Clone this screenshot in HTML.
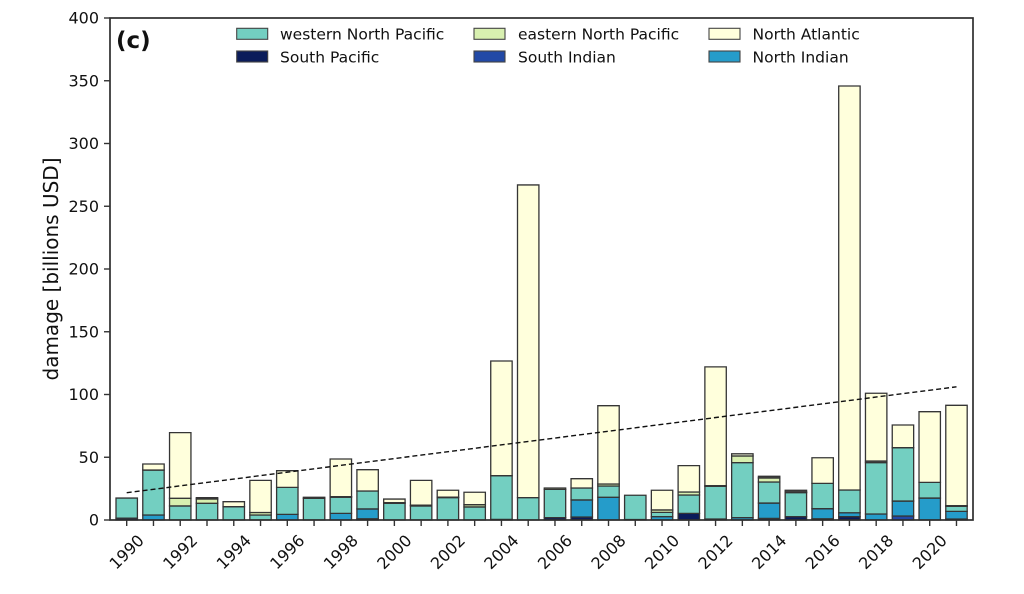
<!DOCTYPE html>
<html><head><meta charset="utf-8"><style>
html,body{margin:0;padding:0;background:#fff;}
svg{display:block;font-family:"DejaVu Sans","Liberation Sans",sans-serif;}
.t{font-size:16px;fill:#111;}
.lg{font-size:15.5px;fill:#111;}
rect.b{stroke:#353535;stroke-width:1.3;}
</style></head><body>
<svg width="1024" height="594" viewBox="0 0 1024 594" xmlns="http://www.w3.org/2000/svg">
<defs>
<style>
.sp{fill:#0b1c5a}.si{fill:#2249a6}.ni{fill:#259cca}.wnp{fill:#73cfc1}.enp{fill:#d8f0b0}.na{fill:#ffffdc}
</style>
</defs>
<g transform="translate(116 520) scale(26.767 -1.255)">
<g>
<!-- 1990 -->
<rect class="b sp" vector-effect="non-scaling-stroke" x="0" width="0.8" y="0" height="1.5"/>
<rect class="b wnp" vector-effect="non-scaling-stroke" x="0" width="0.8" y="1.5" height="16"/>
<!-- 1991 -->
<rect class="b ni" vector-effect="non-scaling-stroke" x="1" width="0.8" y="0" height="4"/>
<rect class="b wnp" vector-effect="non-scaling-stroke" x="1" width="0.8" y="4" height="35.8"/>
<rect class="b na" vector-effect="non-scaling-stroke" x="1" width="0.8" y="39.8" height="4.8"/>
<!-- 1992 -->
<rect class="b wnp" vector-effect="non-scaling-stroke" x="2" width="0.8" y="0" height="11.2"/>
<rect class="b enp" vector-effect="non-scaling-stroke" x="2" width="0.8" y="11.2" height="6.1"/>
<rect class="b na" vector-effect="non-scaling-stroke" x="2" width="0.8" y="17.3" height="52.3"/>
<!-- 1993 -->
<rect class="b wnp" vector-effect="non-scaling-stroke" x="3" width="0.8" y="0" height="13.3"/>
<rect class="b enp" vector-effect="non-scaling-stroke" x="3" width="0.8" y="13.3" height="3.5"/>
<rect class="b na" vector-effect="non-scaling-stroke" x="3" width="0.8" y="16.8" height="1"/>
<!-- 1994 -->
<rect class="b wnp" vector-effect="non-scaling-stroke" x="4" width="0.8" y="0" height="10.6"/>
<rect class="b na" vector-effect="non-scaling-stroke" x="4" width="0.8" y="10.6" height="4"/>
<!-- 1995 -->
<rect class="b wnp" vector-effect="non-scaling-stroke" x="5" width="0.8" y="0" height="4"/>
<rect class="b enp" vector-effect="non-scaling-stroke" x="5" width="0.8" y="4" height="2"/>
<rect class="b na" vector-effect="non-scaling-stroke" x="5" width="0.8" y="6" height="25.6"/>
<!-- 1996 -->
<rect class="b ni" vector-effect="non-scaling-stroke" x="6" width="0.8" y="0" height="4.5"/>
<rect class="b wnp" vector-effect="non-scaling-stroke" x="6" width="0.8" y="4.5" height="21.5"/>
<rect class="b na" vector-effect="non-scaling-stroke" x="6" width="0.8" y="26" height="13.3"/>
<!-- 1997 -->
<rect class="b wnp" vector-effect="non-scaling-stroke" x="7" width="0.8" y="0" height="17.3"/>
<rect class="b enp" vector-effect="non-scaling-stroke" x="7" width="0.8" y="17.3" height="0.8"/>
<!-- 1998 -->
<rect class="b ni" vector-effect="non-scaling-stroke" x="8" width="0.8" y="0" height="5.3"/>
<rect class="b wnp" vector-effect="non-scaling-stroke" x="8" width="0.8" y="5.3" height="12.8"/>
<rect class="b enp" vector-effect="non-scaling-stroke" x="8" width="0.8" y="18.1" height="0.5"/>
<rect class="b na" vector-effect="non-scaling-stroke" x="8" width="0.8" y="18.6" height="30"/>
<!-- 1999 -->
<rect class="b sp" vector-effect="non-scaling-stroke" x="9" width="0.8" y="0" height="1"/>
<rect class="b ni" vector-effect="non-scaling-stroke" x="9" width="0.8" y="1" height="7.8"/>
<rect class="b wnp" vector-effect="non-scaling-stroke" x="9" width="0.8" y="8.8" height="14.3"/>
<rect class="b na" vector-effect="non-scaling-stroke" x="9" width="0.8" y="23.1" height="17"/>
<!-- 2000 -->
<rect class="b wnp" vector-effect="non-scaling-stroke" x="10" width="0.8" y="0" height="13.3"/>
<rect class="b enp" vector-effect="non-scaling-stroke" x="10" width="0.8" y="13.3" height="0.5"/>
<rect class="b na" vector-effect="non-scaling-stroke" x="10" width="0.8" y="13.8" height="2.9"/>
<!-- 2001 -->
<rect class="b wnp" vector-effect="non-scaling-stroke" x="11" width="0.8" y="0" height="11.2"/>
<rect class="b enp" vector-effect="non-scaling-stroke" x="11" width="0.8" y="11.2" height="0.6"/>
<rect class="b na" vector-effect="non-scaling-stroke" x="11" width="0.8" y="11.8" height="19.8"/>
<!-- 2002 -->
<rect class="b wnp" vector-effect="non-scaling-stroke" x="12" width="0.8" y="0" height="17.8"/>
<rect class="b enp" vector-effect="non-scaling-stroke" x="12" width="0.8" y="17.8" height="0.4"/>
<rect class="b na" vector-effect="non-scaling-stroke" x="12" width="0.8" y="18.2" height="5.5"/>
<!-- 2003 -->
<rect class="b wnp" vector-effect="non-scaling-stroke" x="13" width="0.8" y="0" height="10.4"/>
<rect class="b enp" vector-effect="non-scaling-stroke" x="13" width="0.8" y="10.4" height="1.8"/>
<rect class="b na" vector-effect="non-scaling-stroke" x="13" width="0.8" y="12.2" height="9.9"/>
<!-- 2004 -->
<rect class="b sp" vector-effect="non-scaling-stroke" x="14" width="0.8" y="0" height="0.5"/>
<rect class="b wnp" vector-effect="non-scaling-stroke" x="14" width="0.8" y="0.5" height="34.8"/>
<rect class="b na" vector-effect="non-scaling-stroke" x="14" width="0.8" y="35.3" height="91.4"/>
<!-- 2005 -->
<rect class="b wnp" vector-effect="non-scaling-stroke" x="15" width="0.8" y="0" height="17.8"/>
<rect class="b na" vector-effect="non-scaling-stroke" x="15" width="0.8" y="17.8" height="249.2"/>
<!-- 2006 -->
<rect class="b sp" vector-effect="non-scaling-stroke" x="16" width="0.8" y="0" height="1.9"/>
<rect class="b wnp" vector-effect="non-scaling-stroke" x="16" width="0.8" y="1.9" height="22.5"/>
<rect class="b enp" vector-effect="non-scaling-stroke" x="16" width="0.8" y="24.4" height="1.1"/>
<!-- 2007 -->
<rect class="b sp" vector-effect="non-scaling-stroke" x="17" width="0.8" y="0" height="2.4"/>
<rect class="b ni" vector-effect="non-scaling-stroke" x="17" width="0.8" y="2.4" height="13.6"/>
<rect class="b wnp" vector-effect="non-scaling-stroke" x="17" width="0.8" y="16" height="9.5"/>
<rect class="b na" vector-effect="non-scaling-stroke" x="17" width="0.8" y="25.5" height="7.4"/>
<!-- 2008 -->
<rect class="b ni" vector-effect="non-scaling-stroke" x="18" width="0.8" y="0" height="18.1"/>
<rect class="b wnp" vector-effect="non-scaling-stroke" x="18" width="0.8" y="18.1" height="9"/>
<rect class="b enp" vector-effect="non-scaling-stroke" x="18" width="0.8" y="27.1" height="1.6"/>
<rect class="b na" vector-effect="non-scaling-stroke" x="18" width="0.8" y="28.7" height="62.4"/>
<!-- 2009 -->
<rect class="b sp" vector-effect="non-scaling-stroke" x="19" width="0.8" y="0" height="0.4"/>
<rect class="b wnp" vector-effect="non-scaling-stroke" x="19" width="0.8" y="0.4" height="19.3"/>
<!-- 2010 -->
<rect class="b ni" vector-effect="non-scaling-stroke" x="20" width="0.8" y="0" height="2.7"/>
<rect class="b wnp" vector-effect="non-scaling-stroke" x="20" width="0.8" y="2.7" height="3.4"/>
<rect class="b enp" vector-effect="non-scaling-stroke" x="20" width="0.8" y="6.1" height="1.9"/>
<rect class="b na" vector-effect="non-scaling-stroke" x="20" width="0.8" y="8" height="15.7"/>
<!-- 2011 -->
<rect class="b sp" vector-effect="non-scaling-stroke" x="21" width="0.8" y="0" height="5.3"/>
<rect class="b wnp" vector-effect="non-scaling-stroke" x="21" width="0.8" y="5.3" height="14.6"/>
<rect class="b enp" vector-effect="non-scaling-stroke" x="21" width="0.8" y="19.9" height="2.4"/>
<rect class="b na" vector-effect="non-scaling-stroke" x="21" width="0.8" y="22.3" height="21"/>
<!-- 2012 -->
<rect class="b ni" vector-effect="non-scaling-stroke" x="22" width="0.8" y="0" height="0.8"/>
<rect class="b wnp" vector-effect="non-scaling-stroke" x="22" width="0.8" y="0.8" height="26"/>
<rect class="b enp" vector-effect="non-scaling-stroke" x="22" width="0.8" y="26.8" height="0.6"/>
<rect class="b na" vector-effect="non-scaling-stroke" x="22" width="0.8" y="27.4" height="94.6"/>
<!-- 2013 -->
<rect class="b ni" vector-effect="non-scaling-stroke" x="23" width="0.8" y="0" height="1.9"/>
<rect class="b wnp" vector-effect="non-scaling-stroke" x="23" width="0.8" y="1.9" height="43.8"/>
<rect class="b enp" vector-effect="non-scaling-stroke" x="23" width="0.8" y="45.7" height="5.3"/>
<rect class="b na" vector-effect="non-scaling-stroke" x="23" width="0.8" y="51" height="1.8" style="fill:#d9dcc4"/>
<!-- 2014 -->
<rect class="b sp" vector-effect="non-scaling-stroke" x="24" width="0.8" y="0" height="1.3"/>
<rect class="b ni" vector-effect="non-scaling-stroke" x="24" width="0.8" y="1.3" height="12.2"/>
<rect class="b wnp" vector-effect="non-scaling-stroke" x="24" width="0.8" y="13.5" height="16.8"/>
<rect class="b enp" vector-effect="non-scaling-stroke" x="24" width="0.8" y="30.3" height="3.2"/>
<rect class="b na" vector-effect="non-scaling-stroke" x="24" width="0.8" y="33.5" height="1.3" style="fill:#555"/>
<!-- 2015 -->
<rect class="b sp" vector-effect="non-scaling-stroke" x="25" width="0.8" y="0" height="2.7"/>
<rect class="b wnp" vector-effect="non-scaling-stroke" x="25" width="0.8" y="2.7" height="19.1"/>
<rect class="b enp" vector-effect="non-scaling-stroke" x="25" width="0.8" y="21.8" height="0.5"/>
<rect class="b na" vector-effect="non-scaling-stroke" x="25" width="0.8" y="22.3" height="1.4" style="fill:#555"/>
<!-- 2016 -->
<rect class="b sp" vector-effect="non-scaling-stroke" x="26" width="0.8" y="0" height="1"/>
<rect class="b ni" vector-effect="non-scaling-stroke" x="26" width="0.8" y="1" height="8"/>
<rect class="b wnp" vector-effect="non-scaling-stroke" x="26" width="0.8" y="9" height="20.2"/>
<rect class="b na" vector-effect="non-scaling-stroke" x="26" width="0.8" y="29.2" height="20.4"/>
<!-- 2017 -->
<rect class="b sp" vector-effect="non-scaling-stroke" x="27" width="0.8" y="0" height="2.7"/>
<rect class="b ni" vector-effect="non-scaling-stroke" x="27" width="0.8" y="2.7" height="3.1"/>
<rect class="b wnp" vector-effect="non-scaling-stroke" x="27" width="0.8" y="5.8" height="18.1"/>
<rect class="b na" vector-effect="non-scaling-stroke" x="27" width="0.8" y="23.9" height="321.9"/>
<!-- 2018 -->
<rect class="b ni" vector-effect="non-scaling-stroke" x="28" width="0.8" y="0" height="4.8"/>
<rect class="b wnp" vector-effect="non-scaling-stroke" x="28" width="0.8" y="4.8" height="40.9"/>
<rect class="b enp" vector-effect="non-scaling-stroke" x="28" width="0.8" y="45.7" height="1.3" style="fill:#555"/>
<rect class="b na" vector-effect="non-scaling-stroke" x="28" width="0.8" y="47" height="54"/>
<!-- 2019 -->
<rect class="b si" vector-effect="non-scaling-stroke" x="29" width="0.8" y="0" height="3.2"/>
<rect class="b ni" vector-effect="non-scaling-stroke" x="29" width="0.8" y="3.2" height="11.9"/>
<rect class="b wnp" vector-effect="non-scaling-stroke" x="29" width="0.8" y="15.1" height="42.5"/>
<rect class="b na" vector-effect="non-scaling-stroke" x="29" width="0.8" y="57.6" height="18.1"/>
<!-- 2020 -->
<rect class="b ni" vector-effect="non-scaling-stroke" x="30" width="0.8" y="0" height="17.5"/>
<rect class="b wnp" vector-effect="non-scaling-stroke" x="30" width="0.8" y="17.5" height="12.5"/>
<rect class="b na" vector-effect="non-scaling-stroke" x="30" width="0.8" y="30" height="56.3"/>
<!-- 2021 -->
<rect class="b sp" vector-effect="non-scaling-stroke" x="31" width="0.8" y="0" height="0.8"/>
<rect class="b ni" vector-effect="non-scaling-stroke" x="31" width="0.8" y="0.8" height="6.1"/>
<rect class="b wnp" vector-effect="non-scaling-stroke" x="31" width="0.8" y="6.9" height="4"/>
<rect class="b enp" vector-effect="non-scaling-stroke" x="31" width="0.8" y="10.9" height="0.5"/>
<rect class="b na" vector-effect="non-scaling-stroke" x="31" width="0.8" y="11.4" height="80"/>
</g>
</g>

<!-- trend line -->
<line x1="126.7" y1="492.7" x2="956.5" y2="386.8" stroke="#111" stroke-width="1.4" stroke-dasharray="5 3"/>

<!-- axes frame -->
<rect x="110" y="18" width="863" height="502" fill="none" stroke="#2e2e2e" stroke-width="1.7"/>

<!-- y ticks -->
<g stroke="#333" stroke-width="1.4">
<line x1="104" y1="520" x2="110" y2="520"/>
<line x1="104" y1="457.25" x2="110" y2="457.25"/>
<line x1="104" y1="394.5" x2="110" y2="394.5"/>
<line x1="104" y1="331.75" x2="110" y2="331.75"/>
<line x1="104" y1="269" x2="110" y2="269"/>
<line x1="104" y1="206.25" x2="110" y2="206.25"/>
<line x1="104" y1="143.5" x2="110" y2="143.5"/>
<line x1="104" y1="80.75" x2="110" y2="80.75"/>
<line x1="104" y1="18" x2="110" y2="18"/>
</g>
<g class="t" text-anchor="end" dominant-baseline="central">
<text x="99" y="520">0</text>
<text x="99" y="457.25">50</text>
<text x="99" y="394.5">100</text>
<text x="99" y="331.75">150</text>
<text x="99" y="269">200</text>
<text x="99" y="206.25">250</text>
<text x="99" y="143.5">300</text>
<text x="99" y="80.75">350</text>
<text x="99" y="18">400</text>
</g>

<!-- x ticks -->
<g stroke="#333" stroke-width="1.4">
<line x1="126.70" y1="520" x2="126.70" y2="526"/>
<line x1="153.47" y1="520" x2="153.47" y2="526"/>
<line x1="180.23" y1="520" x2="180.23" y2="526"/>
<line x1="207.00" y1="520" x2="207.00" y2="526"/>
<line x1="233.77" y1="520" x2="233.77" y2="526"/>
<line x1="260.54" y1="520" x2="260.54" y2="526"/>
<line x1="287.30" y1="520" x2="287.30" y2="526"/>
<line x1="314.07" y1="520" x2="314.07" y2="526"/>
<line x1="340.84" y1="520" x2="340.84" y2="526"/>
<line x1="367.60" y1="520" x2="367.60" y2="526"/>
<line x1="394.37" y1="520" x2="394.37" y2="526"/>
<line x1="421.14" y1="520" x2="421.14" y2="526"/>
<line x1="447.90" y1="520" x2="447.90" y2="526"/>
<line x1="474.67" y1="520" x2="474.67" y2="526"/>
<line x1="501.44" y1="520" x2="501.44" y2="526"/>
<line x1="528.21" y1="520" x2="528.21" y2="526"/>
<line x1="554.97" y1="520" x2="554.97" y2="526"/>
<line x1="581.74" y1="520" x2="581.74" y2="526"/>
<line x1="608.51" y1="520" x2="608.51" y2="526"/>
<line x1="635.27" y1="520" x2="635.27" y2="526"/>
<line x1="662.04" y1="520" x2="662.04" y2="526"/>
<line x1="688.81" y1="520" x2="688.81" y2="526"/>
<line x1="715.57" y1="520" x2="715.57" y2="526"/>
<line x1="742.34" y1="520" x2="742.34" y2="526"/>
<line x1="769.11" y1="520" x2="769.11" y2="526"/>
<line x1="795.88" y1="520" x2="795.88" y2="526"/>
<line x1="822.64" y1="520" x2="822.64" y2="526"/>
<line x1="849.41" y1="520" x2="849.41" y2="526"/>
<line x1="876.18" y1="520" x2="876.18" y2="526"/>
<line x1="902.94" y1="520" x2="902.94" y2="526"/>
<line x1="929.71" y1="520" x2="929.71" y2="526"/>
<line x1="956.48" y1="520" x2="956.48" y2="526"/>
</g>
<g class="t" text-anchor="middle" dominant-baseline="central">
<text x="126.70" y="552" transform="rotate(-45 126.70 552)">1990</text>
<text x="180.23" y="552" transform="rotate(-45 180.23 552)">1992</text>
<text x="233.77" y="552" transform="rotate(-45 233.77 552)">1994</text>
<text x="287.30" y="552" transform="rotate(-45 287.30 552)">1996</text>
<text x="340.84" y="552" transform="rotate(-45 340.84 552)">1998</text>
<text x="394.37" y="552" transform="rotate(-45 394.37 552)">2000</text>
<text x="447.90" y="552" transform="rotate(-45 447.90 552)">2002</text>
<text x="501.44" y="552" transform="rotate(-45 501.44 552)">2004</text>
<text x="554.97" y="552" transform="rotate(-45 554.97 552)">2006</text>
<text x="608.51" y="552" transform="rotate(-45 608.51 552)">2008</text>
<text x="662.04" y="552" transform="rotate(-45 662.04 552)">2010</text>
<text x="715.57" y="552" transform="rotate(-45 715.57 552)">2012</text>
<text x="769.11" y="552" transform="rotate(-45 769.11 552)">2014</text>
<text x="822.64" y="552" transform="rotate(-45 822.64 552)">2016</text>
<text x="876.18" y="552" transform="rotate(-45 876.18 552)">2018</text>
<text x="929.71" y="552" transform="rotate(-45 929.71 552)">2020</text>
</g>

<!-- y label -->
<text x="58" y="269" font-size="20" fill="#111" text-anchor="middle" transform="rotate(-90 58 269)">damage [billions USD]</text>

<!-- panel label -->
<text x="116" y="48" font-size="23" font-weight="bold" fill="#111">(c)</text>

<!-- legend -->
<g stroke="#444" stroke-width="1.1">
<rect x="236.7" y="28.3" width="31" height="11" class="wnp"/>
<rect x="236.7" y="51" width="31" height="11" class="sp"/>
<rect x="474" y="28.3" width="31" height="11" class="enp"/>
<rect x="474" y="51" width="31" height="11" class="si"/>
<rect x="709" y="28.3" width="31" height="11" class="na"/>
<rect x="709" y="51" width="31" height="11" class="ni"/>
</g>
<g class="lg">
<text x="280" y="39.5">western North Pacific</text>
<text x="280" y="62.5">South Pacific</text>
<text x="518" y="39.5">eastern North Pacific</text>
<text x="518" y="62.5">South Indian</text>
<text x="752.5" y="39.5">North Atlantic</text>
<text x="752.5" y="62.5">North Indian</text>
</g>
</svg>
</body></html>
